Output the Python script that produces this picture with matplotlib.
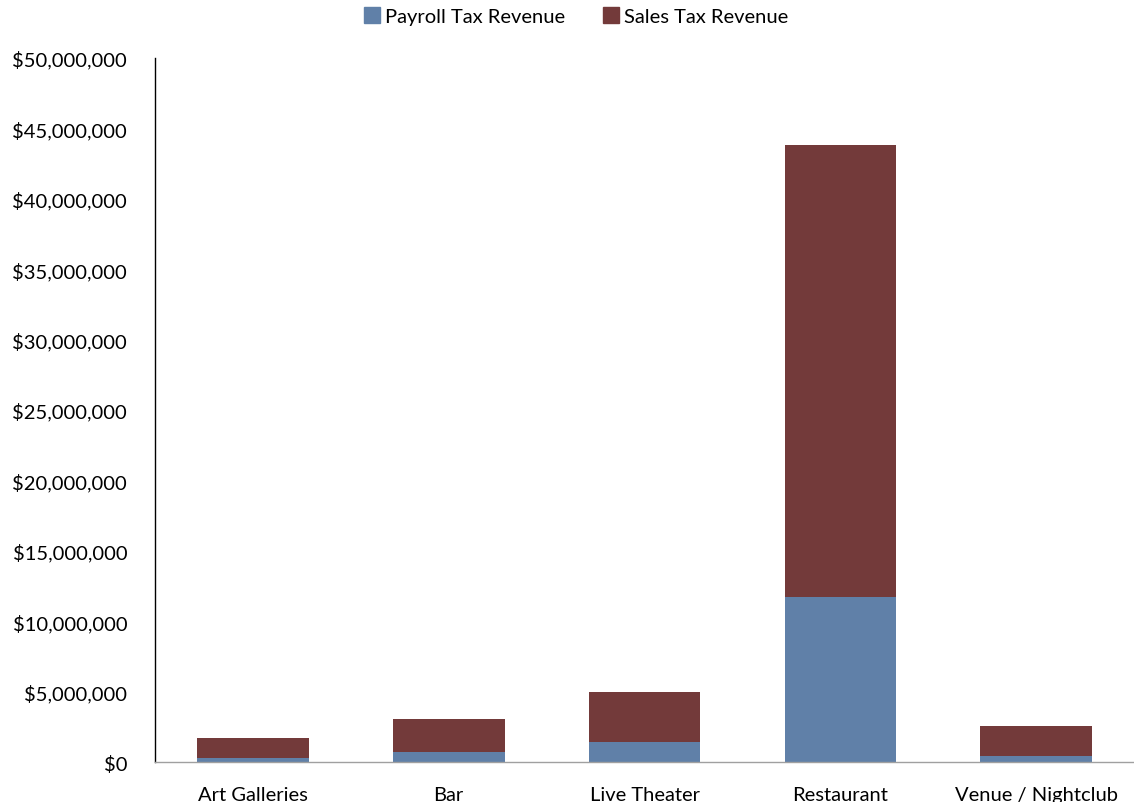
import matplotlib
matplotlib.use("Agg")
import matplotlib.pyplot as plt
from matplotlib.ticker import FuncFormatter
from matplotlib.patches import Patch

categories = ["Art Galleries", "Bar", "Live Theater", "Restaurant", "Venue / Nightclub"]
payroll_tax = [250_000, 700_000, 1_400_000, 11_700_000, 420_000]
sales_tax = [1_450_000, 2_350_000, 3_570_000, 32_100_000, 2_130_000]
y_ticks = list(range(0, 50_000_001, 5_000_000))

payroll_color = "#6080A8"
sales_color = "#733A3A"

plt.rcParams["font.family"] = ["Lato", "DejaVu Sans"]

fig = plt.figure(figsize=(11.34, 8.03), dpi=100)
ax = fig.add_axes([0.1367, 0.0498, 0.8633, 0.8767])

x = list(range(len(categories)))
width = 0.57
ax.bar(x, payroll_tax, width, color=payroll_color, label="Payroll Tax Revenue")
ax.bar(x, sales_tax, width, bottom=payroll_tax, color=sales_color, label="Sales Tax Revenue")

ax.set_xlim(-0.5, len(categories) - 0.5)
ax.set_ylim(0, 50_000_000)
ax.set_yticks(y_ticks)
ax.yaxis.set_major_formatter(FuncFormatter(lambda v, p: f"${v:,.0f}"))
ax.set_xticks(x)
ax.set_xticklabels(categories)
ax.tick_params(axis="both", length=0, labelsize=14.5, colors="black")
ax.tick_params(axis="x", pad=17)
ax.tick_params(axis="y", pad=20)

for side in ("top", "right"):
    ax.spines[side].set_visible(False)
ax.spines["left"].set_color("black")
ax.spines["left"].set_linewidth(1.0)
ax.spines["bottom"].set_color("#A0A0A0")
ax.spines["bottom"].set_linewidth(1.0)

handles = [Patch(color=payroll_color, label="Payroll Tax Revenue"),
           Patch(color=sales_color, label="Sales Tax Revenue")]
fig.legend(handles=handles, loc="upper center", bbox_to_anchor=(0.508, 1.012), ncol=2,
           frameon=False, fontsize=14.5, handlelength=0.8, handleheight=0.8,
           handletextpad=0.25, columnspacing=1.9)

fig.savefig("out.png", dpi=100)
